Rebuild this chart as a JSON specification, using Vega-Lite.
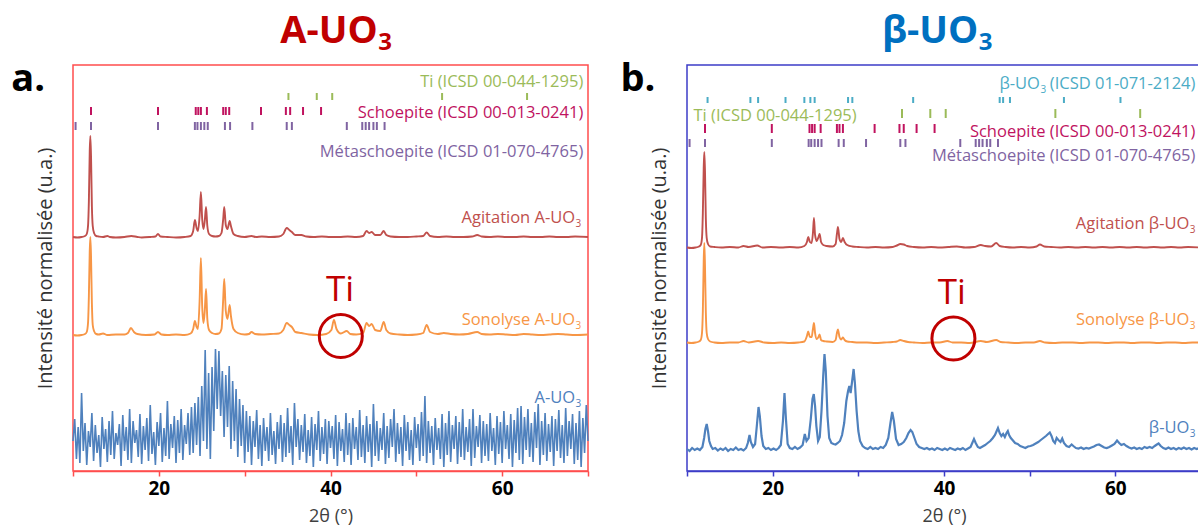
{
"$schema": "https://vega.github.io/schema/vega-lite/v6.json",
"padding": {"left": 10, "top": 12, "right": 0, "bottom": 0},
"bounds": "flush",
"spacing": 99,
"config": {"font": "Open Sans", "view": {"strokeWidth": 1.5}},
"datasets": {
"ti": [{"t":35.1},{"t":38.4},{"t":40.2},{"t":53.0},{"t":62.9}],
"sch": [{"t":12.1},{"t":19.9},{"t":24.3},{"t":24.6},{"t":24.9},{"t":25.6},{"t":27.5},{"t":27.8},{"t":28.2},{"t":31.9},{"t":34.8},{"t":35.3},{"t":36.8},{"t":38.9}],
"meta": [{"t":10.3},{"t":12.1},{"t":19.9},{"t":24.2},{"t":24.5},{"t":24.9},{"t":25.3},{"t":25.7},{"t":27.7},{"t":28.3},{"t":30.9},{"t":34.9},{"t":35.5},{"t":41.9},{"t":43.7},{"t":44.1},{"t":44.5},{"t":45.0},{"t":45.4},{"t":46.3}],
"buo": [{"t":12.4},{"t":17.4},{"t":18.3},{"t":21.5},{"t":23.7},{"t":24.4},{"t":24.9},{"t":28.8},{"t":29.3},{"t":36.4},{"t":46.5},{"t":46.9},{"t":47.7},{"t":54.0},{"t":60.6}],
"aAg": [{"t":10,"y":234},{"t":10.5,"y":233.5},{"t":11,"y":234},{"t":11.4,"y":235},{"t":11.6,"y":237},{"t":11.75,"y":245},{"t":11.85,"y":270},{"t":11.95,"y":320},{"t":12.02,"y":335},{"t":12.1,"y":315},{"t":12.2,"y":265},{"t":12.3,"y":245},{"t":12.45,"y":238},{"t":12.7,"y":235},{"t":13,"y":234.5},{"t":13.5,"y":234},{"t":14,"y":235},{"t":14.3,"y":234},{"t":15,"y":233.5},{"t":16,"y":234},{"t":16.8,"y":235},{"t":17.5,"y":234},{"t":18,"y":233.5},{"t":19,"y":234},{"t":19.6,"y":234.5},{"t":19.9,"y":237},{"t":20.2,"y":234.5},{"t":21,"y":234},{"t":22,"y":233.5},{"t":23,"y":234},{"t":23.7,"y":235},{"t":24,"y":240},{"t":24.2,"y":251},{"t":24.4,"y":243},{"t":24.55,"y":240},{"t":24.75,"y":255},{"t":24.9,"y":279},{"t":25.05,"y":252},{"t":25.2,"y":242},{"t":25.35,"y":250},{"t":25.5,"y":264},{"t":25.65,"y":245},{"t":25.85,"y":237},{"t":26.2,"y":235},{"t":26.6,"y":234.5},{"t":27,"y":235},{"t":27.3,"y":238},{"t":27.5,"y":252},{"t":27.62,"y":264},{"t":27.8,"y":246},{"t":28,"y":242},{"t":28.25,"y":250},{"t":28.4,"y":245},{"t":28.7,"y":237},{"t":29.2,"y":235},{"t":30,"y":234},{"t":30.8,"y":235},{"t":31.3,"y":234},{"t":32,"y":234.5},{"t":33,"y":234},{"t":34,"y":234.5},{"t":34.5,"y":237},{"t":34.9,"y":243},{"t":35.2,"y":241},{"t":35.5,"y":239},{"t":35.9,"y":236},{"t":36.6,"y":236},{"t":37.2,"y":234.5},{"t":38,"y":234},{"t":39,"y":234.5},{"t":40,"y":234},{"t":41,"y":234},{"t":42,"y":234.5},{"t":43,"y":234},{"t":43.8,"y":235},{"t":44.2,"y":240},{"t":44.5,"y":238},{"t":44.8,"y":239},{"t":45.2,"y":236},{"t":45.8,"y":236},{"t":46.2,"y":240},{"t":46.5,"y":236},{"t":47,"y":234.5},{"t":48,"y":234},{"t":49,"y":234},{"t":50,"y":234.5},{"t":50.8,"y":235},{"t":51.2,"y":238.5},{"t":51.6,"y":235},{"t":52.5,"y":234},{"t":53.5,"y":234.5},{"t":54.5,"y":234},{"t":55.5,"y":234},{"t":56.5,"y":234.5},{"t":57.1,"y":236},{"t":57.6,"y":234.5},{"t":58.5,"y":234},{"t":59.5,"y":234.5},{"t":60.5,"y":234},{"t":61.5,"y":234},{"t":62.5,"y":234.5},{"t":63.5,"y":234},{"t":64.5,"y":234},{"t":65.5,"y":234.5},{"t":66.5,"y":234},{"t":67.5,"y":234},{"t":68.5,"y":234.5},{"t":70,"y":234}],
"aSo": [{"t":10,"y":136},{"t":10.5,"y":135.5},{"t":11,"y":136},{"t":11.4,"y":137},{"t":11.6,"y":139},{"t":11.75,"y":148},{"t":11.85,"y":175},{"t":11.95,"y":220},{"t":12.02,"y":234},{"t":12.1,"y":215},{"t":12.2,"y":168},{"t":12.3,"y":146},{"t":12.45,"y":140},{"t":12.7,"y":137},{"t":13,"y":136.5},{"t":13.5,"y":137.5},{"t":14,"y":136},{"t":15,"y":136.5},{"t":16,"y":136.5},{"t":16.4,"y":138},{"t":16.75,"y":143},{"t":17.1,"y":139},{"t":17.5,"y":137},{"t":18.5,"y":136},{"t":19.5,"y":136.5},{"t":19.9,"y":139},{"t":20.3,"y":136.5},{"t":21,"y":136},{"t":22,"y":136.5},{"t":23,"y":136},{"t":23.7,"y":137.5},{"t":24,"y":142},{"t":24.2,"y":150},{"t":24.4,"y":144},{"t":24.55,"y":142},{"t":24.75,"y":170},{"t":24.9,"y":213},{"t":25.05,"y":165},{"t":25.2,"y":148},{"t":25.35,"y":160},{"t":25.5,"y":182},{"t":25.65,"y":152},{"t":25.85,"y":141},{"t":26.2,"y":138},{"t":26.6,"y":137},{"t":27,"y":137.5},{"t":27.3,"y":142},{"t":27.5,"y":172},{"t":27.62,"y":192},{"t":27.8,"y":160},{"t":28,"y":152},{"t":28.25,"y":166},{"t":28.4,"y":155},{"t":28.7,"y":142},{"t":29.2,"y":138},{"t":30,"y":136.5},{"t":30.5,"y":137},{"t":30.8,"y":139},{"t":31.2,"y":137},{"t":32,"y":136.5},{"t":33,"y":137},{"t":34,"y":137.5},{"t":34.5,"y":141},{"t":34.9,"y":148},{"t":35.2,"y":146},{"t":35.5,"y":144},{"t":35.9,"y":139},{"t":36.6,"y":138},{"t":37.5,"y":136.5},{"t":38.5,"y":136},{"t":39.5,"y":137},{"t":40.1,"y":141},{"t":40.4,"y":151},{"t":40.7,"y":142},{"t":41.2,"y":137.5},{"t":41.9,"y":140},{"t":42.3,"y":137},{"t":43,"y":136.5},{"t":43.8,"y":138},{"t":44.2,"y":148},{"t":44.5,"y":145},{"t":44.8,"y":147},{"t":45.2,"y":141},{"t":45.8,"y":140},{"t":46.2,"y":149},{"t":46.5,"y":141},{"t":47,"y":137.5},{"t":48,"y":136.5},{"t":49,"y":136},{"t":50,"y":136.5},{"t":50.8,"y":138},{"t":51.2,"y":146},{"t":51.6,"y":139},{"t":52.5,"y":137},{"t":53.2,"y":138},{"t":54,"y":137},{"t":55,"y":136.5},{"t":56,"y":137},{"t":57.1,"y":139},{"t":57.6,"y":137},{"t":58.5,"y":136.5},{"t":59.5,"y":137},{"t":60.5,"y":136.5},{"t":61.5,"y":136},{"t":62.5,"y":137},{"t":63.5,"y":136.5},{"t":64.5,"y":136},{"t":65.5,"y":136.5},{"t":66.5,"y":137},{"t":67.5,"y":136.5},{"t":68.5,"y":136},{"t":70,"y":136.5}],
"aBl": [{"t":10.0,"y":30},{"t":10.2,"y":52},{"t":10.4,"y":12},{"t":10.6,"y":44},{"t":10.8,"y":8},{"t":11.0,"y":78},{"t":11.2,"y":20},{"t":11.4,"y":48},{"t":11.6,"y":6},{"t":11.8,"y":40},
{"t":12.0,"y":24},{"t":12.2,"y":58},{"t":12.4,"y":10},{"t":12.6,"y":46},{"t":12.8,"y":18},{"t":13.0,"y":36},{"t":13.2,"y":4},{"t":13.4,"y":54},{"t":13.6,"y":22},{"t":13.8,"y":42},
{"t":14.0,"y":9},{"t":14.2,"y":50},{"t":14.4,"y":16},{"t":14.6,"y":60},{"t":14.8,"y":12},{"t":15.0,"y":38},{"t":15.2,"y":26},{"t":15.4,"y":47},{"t":15.6,"y":5},{"t":15.8,"y":56},
{"t":16.0,"y":20},{"t":16.2,"y":44},{"t":16.4,"y":11},{"t":16.6,"y":62},{"t":16.8,"y":8},{"t":17.0,"y":50},{"t":17.2,"y":28},{"t":17.4,"y":41},{"t":17.6,"y":14},{"t":17.8,"y":57},
{"t":18.0,"y":7},{"t":18.2,"y":45},{"t":18.4,"y":21},{"t":18.6,"y":53},{"t":18.8,"y":10},{"t":19.0,"y":66},{"t":19.2,"y":17},{"t":19.4,"y":39},{"t":19.6,"y":6},{"t":19.8,"y":49},
{"t":20.0,"y":25},{"t":20.2,"y":58},{"t":20.4,"y":9},{"t":20.6,"y":43},{"t":20.8,"y":15},{"t":21.0,"y":70},{"t":21.2,"y":12},{"t":21.4,"y":47},{"t":21.6,"y":23},{"t":21.8,"y":55},
{"t":22.0,"y":8},{"t":22.2,"y":51},{"t":22.4,"y":18},{"t":22.6,"y":62},{"t":22.8,"y":11},{"t":23.0,"y":46},{"t":23.2,"y":27},{"t":23.4,"y":58},{"t":23.6,"y":16},{"t":23.8,"y":64},
{"t":24.0,"y":18},{"t":24.2,"y":68},{"t":24.4,"y":26},{"t":24.6,"y":74},{"t":24.8,"y":15},{"t":25.0,"y":85},{"t":25.2,"y":30},{"t":25.4,"y":121},{"t":25.6,"y":22},{"t":25.8,"y":98},
{"t":26.0,"y":12},{"t":26.2,"y":104},{"t":26.4,"y":40},{"t":26.6,"y":122},{"t":26.8,"y":62},{"t":27.0,"y":120},{"t":27.2,"y":55},{"t":27.4,"y":100},{"t":27.6,"y":34},{"t":27.8,"y":96},
{"t":28.0,"y":44},{"t":28.2,"y":105},{"t":28.4,"y":22},{"t":28.6,"y":90},{"t":28.8,"y":30},{"t":29.0,"y":82},{"t":29.2,"y":14},{"t":29.4,"y":72},{"t":29.6,"y":25},{"t":29.8,"y":66},
{"t":30.0,"y":8},{"t":30.2,"y":60},{"t":30.4,"y":19},{"t":30.6,"y":55},{"t":30.8,"y":6},{"t":31.0,"y":50},{"t":31.2,"y":24},{"t":31.4,"y":61},{"t":31.6,"y":12},{"t":31.8,"y":46},
{"t":32.0,"y":5},{"t":32.2,"y":53},{"t":32.4,"y":20},{"t":32.6,"y":44},{"t":32.8,"y":10},{"t":33.0,"y":58},{"t":33.2,"y":16},{"t":33.4,"y":40},{"t":33.6,"y":7},{"t":33.8,"y":49},
{"t":34.0,"y":22},{"t":34.2,"y":56},{"t":34.4,"y":9},{"t":34.6,"y":48},{"t":34.8,"y":14},{"t":35.0,"y":63},{"t":35.2,"y":18},{"t":35.4,"y":45},{"t":35.6,"y":6},{"t":35.8,"y":68},
{"t":36.0,"y":24},{"t":36.2,"y":52},{"t":36.4,"y":11},{"t":36.6,"y":46},{"t":36.8,"y":19},{"t":37.0,"y":57},{"t":37.2,"y":8},{"t":37.4,"y":41},{"t":37.6,"y":15},{"t":37.8,"y":54},
{"t":38.0,"y":4},{"t":38.2,"y":47},{"t":38.4,"y":21},{"t":38.6,"y":60},{"t":38.8,"y":10},{"t":39.0,"y":44},{"t":39.2,"y":17},{"t":39.4,"y":52},{"t":39.6,"y":7},{"t":39.8,"y":50},
{"t":40.0,"y":23},{"t":40.2,"y":45},{"t":40.4,"y":12},{"t":40.6,"y":56},{"t":40.8,"y":5},{"t":41.0,"y":49},{"t":41.2,"y":20},{"t":41.4,"y":42},{"t":41.6,"y":9},{"t":41.8,"y":58},
{"t":42.0,"y":16},{"t":42.2,"y":48},{"t":42.4,"y":6},{"t":42.6,"y":53},{"t":42.8,"y":22},{"t":43.0,"y":44},{"t":43.2,"y":11},{"t":43.4,"y":61},{"t":43.6,"y":14},{"t":43.8,"y":46},
{"t":44.0,"y":8},{"t":44.2,"y":55},{"t":44.4,"y":19},{"t":44.6,"y":47},{"t":44.8,"y":4},{"t":45.0,"y":67},{"t":45.2,"y":15},{"t":45.4,"y":50},{"t":45.6,"y":10},{"t":45.8,"y":43},
{"t":46.0,"y":21},{"t":46.2,"y":58},{"t":46.4,"y":7},{"t":46.6,"y":45},{"t":46.8,"y":13},{"t":47.0,"y":52},{"t":47.2,"y":24},{"t":47.4,"y":62},{"t":47.6,"y":9},{"t":47.8,"y":48},
{"t":48.0,"y":17},{"t":48.2,"y":44},{"t":48.4,"y":5},{"t":48.6,"y":56},{"t":48.8,"y":20},{"t":49.0,"y":49},{"t":49.2,"y":11},{"t":49.4,"y":41},{"t":49.6,"y":6},{"t":49.8,"y":54},
{"t":50.0,"y":23},{"t":50.2,"y":47},{"t":50.4,"y":10},{"t":50.6,"y":59},{"t":50.8,"y":15},{"t":51.0,"y":75},{"t":51.2,"y":8},{"t":51.4,"y":50},{"t":51.6,"y":18},{"t":51.8,"y":45},
{"t":52.0,"y":6},{"t":52.2,"y":53},{"t":52.4,"y":21},{"t":52.6,"y":43},{"t":52.8,"y":12},{"t":53.0,"y":57},{"t":53.2,"y":4},{"t":53.4,"y":48},{"t":53.6,"y":16},{"t":53.8,"y":60},
{"t":54.0,"y":9},{"t":54.2,"y":46},{"t":54.4,"y":22},{"t":54.6,"y":55},{"t":54.8,"y":7},{"t":55.0,"y":49},{"t":55.2,"y":14},{"t":55.4,"y":62},{"t":55.6,"y":11},{"t":55.8,"y":44},
{"t":56.0,"y":19},{"t":56.2,"y":52},{"t":56.4,"y":5},{"t":56.6,"y":62},{"t":56.8,"y":13},{"t":57.0,"y":45},{"t":57.2,"y":24},{"t":57.4,"y":56},{"t":57.6,"y":8},{"t":57.8,"y":50},
{"t":58.0,"y":15},{"t":58.2,"y":47},{"t":58.4,"y":10},{"t":58.6,"y":58},{"t":58.8,"y":20},{"t":59.0,"y":43},{"t":59.2,"y":6},{"t":59.4,"y":55},{"t":59.6,"y":17},{"t":59.8,"y":49},
{"t":60.0,"y":8},{"t":60.2,"y":60},{"t":60.4,"y":22},{"t":60.6,"y":46},{"t":60.8,"y":12},{"t":61.0,"y":57},{"t":61.2,"y":4},{"t":61.4,"y":51},{"t":61.6,"y":18},{"t":61.8,"y":63},
{"t":62.0,"y":11},{"t":62.2,"y":65},{"t":62.4,"y":7},{"t":62.6,"y":54},{"t":62.8,"y":21},{"t":63.0,"y":62},{"t":63.2,"y":14},{"t":63.4,"y":48},{"t":63.6,"y":9},{"t":63.8,"y":59},
{"t":64.0,"y":23},{"t":64.2,"y":67},{"t":64.4,"y":6},{"t":64.6,"y":50},{"t":64.8,"y":16},{"t":65.0,"y":58},{"t":65.2,"y":10},{"t":65.4,"y":47},{"t":65.6,"y":19},{"t":65.8,"y":55},
{"t":66.0,"y":5},{"t":66.2,"y":52},{"t":66.4,"y":20},{"t":66.6,"y":61},{"t":66.8,"y":13},{"t":67.0,"y":46},{"t":67.2,"y":8},{"t":67.4,"y":63},{"t":67.6,"y":15},{"t":67.8,"y":50},
{"t":68.0,"y":22},{"t":68.2,"y":57},{"t":68.4,"y":7},{"t":68.6,"y":48},{"t":68.8,"y":11},{"t":69.0,"y":60},{"t":69.2,"y":4},{"t":69.4,"y":53},{"t":69.6,"y":18},{"t":69.8,"y":66},{"t":70.0,"y":30}],
"bAg": [{"t":10,"y":223.5},{"t":10.5,"y":223},{"t":11,"y":223.5},{"t":11.4,"y":224.5},{"t":11.6,"y":226},{"t":11.75,"y":233},{"t":11.85,"y":258},{"t":11.95,"y":303},{"t":12.02,"y":319},{"t":12.1,"y":300},{"t":12.2,"y":252},{"t":12.3,"y":233},{"t":12.45,"y":227},{"t":12.7,"y":224.5},{"t":13.2,"y":224},{"t":14,"y":223.5},{"t":15,"y":224},{"t":16,"y":223.5},{"t":16.6,"y":225},{"t":17.2,"y":224},{"t":18.2,"y":225.5},{"t":18.8,"y":223.5},{"t":19.8,"y":224},{"t":21,"y":223.5},{"t":22,"y":224},{"t":23,"y":223.5},{"t":23.7,"y":225},{"t":24,"y":229},{"t":24.15,"y":234},{"t":24.35,"y":229},{"t":24.55,"y":228},{"t":24.7,"y":238},{"t":24.82,"y":253},{"t":24.95,"y":236},{"t":25.15,"y":230},{"t":25.35,"y":234},{"t":25.48,"y":237},{"t":25.65,"y":229},{"t":25.9,"y":226},{"t":26.3,"y":225},{"t":27,"y":224.5},{"t":27.35,"y":227},{"t":27.5,"y":237},{"t":27.62,"y":244},{"t":27.8,"y":232},{"t":28,"y":229},{"t":28.2,"y":233},{"t":28.4,"y":229},{"t":28.7,"y":226},{"t":29.3,"y":224.5},{"t":30,"y":224},{"t":31,"y":223.5},{"t":32,"y":224},{"t":33,"y":223.5},{"t":34,"y":224},{"t":34.5,"y":225.5},{"t":34.9,"y":227},{"t":35.3,"y":226.5},{"t":35.7,"y":225},{"t":36.5,"y":224},{"t":37.5,"y":223.5},{"t":38.5,"y":224},{"t":39.5,"y":223.5},{"t":40.5,"y":224},{"t":41.5,"y":224.5},{"t":42.5,"y":223.5},{"t":43.5,"y":224},{"t":44.3,"y":226},{"t":44.8,"y":225},{"t":45.5,"y":224.5},{"t":46.1,"y":228},{"t":46.5,"y":225},{"t":47.2,"y":224},{"t":48,"y":223.5},{"t":49,"y":224},{"t":50,"y":223.5},{"t":50.8,"y":224.5},{"t":51.2,"y":226.5},{"t":51.7,"y":224.5},{"t":52.5,"y":224},{"t":53.5,"y":223.5},{"t":54.5,"y":224},{"t":55.5,"y":223.5},{"t":56.5,"y":224},{"t":57.5,"y":223.5},{"t":58.5,"y":224},{"t":59.5,"y":223.5},{"t":60.5,"y":224},{"t":61.5,"y":223.5},{"t":62.5,"y":224},{"t":63.5,"y":223.5},{"t":64.5,"y":224},{"t":65.5,"y":223.5},{"t":66.5,"y":224},{"t":67.5,"y":223.5},{"t":68.5,"y":224},{"t":70,"y":223.5}],
"bSo": [{"t":10,"y":128.5},{"t":10.5,"y":128},{"t":11,"y":128.5},{"t":11.4,"y":129.5},{"t":11.6,"y":131},{"t":11.75,"y":138},{"t":11.85,"y":160},{"t":11.95,"y":210},{"t":12.02,"y":228},{"t":12.1,"y":205},{"t":12.2,"y":158},{"t":12.3,"y":138},{"t":12.45,"y":132},{"t":12.7,"y":129.5},{"t":13.2,"y":128.5},{"t":14,"y":128},{"t":15,"y":128.5},{"t":16,"y":128.5},{"t":16.6,"y":130},{"t":17.2,"y":128.5},{"t":18.3,"y":130},{"t":19,"y":128.5},{"t":20,"y":128},{"t":21,"y":128.5},{"t":22,"y":128},{"t":23,"y":128.5},{"t":23.7,"y":129.5},{"t":24,"y":135},{"t":24.15,"y":139.5},{"t":24.35,"y":134},{"t":24.55,"y":134},{"t":24.7,"y":142},{"t":24.82,"y":148},{"t":24.95,"y":138},{"t":25.15,"y":132},{"t":25.35,"y":134},{"t":25.48,"y":136.5},{"t":25.65,"y":131},{"t":25.9,"y":130},{"t":26.3,"y":129.5},{"t":27,"y":129},{"t":27.35,"y":131},{"t":27.5,"y":138},{"t":27.62,"y":141.5},{"t":27.8,"y":134},{"t":28,"y":131.5},{"t":28.2,"y":133.5},{"t":28.4,"y":131},{"t":28.7,"y":129.5},{"t":29.3,"y":129},{"t":30,"y":128.5},{"t":31,"y":128.5},{"t":32,"y":128},{"t":33,"y":128.5},{"t":34,"y":129},{"t":34.5,"y":129.5},{"t":34.9,"y":131},{"t":35.3,"y":130},{"t":35.8,"y":129},{"t":36.5,"y":128.5},{"t":37.5,"y":128},{"t":38.5,"y":128.5},{"t":39.5,"y":128.5},{"t":40.4,"y":130},{"t":41,"y":128.5},{"t":42,"y":128.5},{"t":43,"y":128},{"t":44.3,"y":130},{"t":45,"y":129},{"t":46.1,"y":131},{"t":46.6,"y":129},{"t":47.5,"y":128.5},{"t":48.5,"y":128},{"t":49.5,"y":128.5},{"t":50.5,"y":128.5},{"t":51.2,"y":130},{"t":51.8,"y":128.5},{"t":52.8,"y":128},{"t":53.8,"y":128.5},{"t":55,"y":128.5},{"t":56,"y":128},{"t":57,"y":128.5},{"t":58,"y":128.5},{"t":59,"y":128},{"t":60,"y":128.5},{"t":61,"y":128.5},{"t":62,"y":128},{"t":63,"y":128.5},{"t":64,"y":128.5},{"t":65,"y":128},{"t":66,"y":128.5},{"t":67,"y":128.5},{"t":68,"y":128},{"t":69,"y":128.5},{"t":70,"y":128.5}],
"bBl": [{"t":10.0,"y":22},{"t":10.3,"y":20},{"t":10.6,"y":23},{"t":10.9,"y":21},{"t":11.2,"y":22.5},{"t":11.5,"y":21},{"t":11.8,"y":24},{"t":12.0,"y":33},{"t":12.15,"y":42},{"t":12.3,"y":47},{"t":12.45,"y":40},{"t":12.6,"y":30},{"t":12.8,"y":25},{"t":13.0,"y":22},{"t":13.3,"y":23},{"t":13.6,"y":20.5},{"t":13.9,"y":22.5},{"t":14.2,"y":21},{"t":14.5,"y":23},{"t":14.8,"y":20},{"t":15.1,"y":22},{"t":15.4,"y":21},{"t":15.7,"y":23.5},{"t":16.0,"y":21},{"t":16.3,"y":22},{"t":16.6,"y":20.5},{"t":16.9,"y":23},{"t":17.1,"y":28},{"t":17.3,"y":36},{"t":17.45,"y":29},{"t":17.7,"y":24},{"t":17.95,"y":27},{"t":18.15,"y":45},{"t":18.35,"y":64},{"t":18.5,"y":55},{"t":18.7,"y":35},{"t":18.9,"y":25},{"t":19.2,"y":22},{"t":19.5,"y":23},{"t":19.8,"y":21},{"t":20.1,"y":22.5},{"t":20.4,"y":21},{"t":20.7,"y":23},{"t":20.95,"y":26},{"t":21.2,"y":50},{"t":21.38,"y":78},{"t":21.55,"y":52},{"t":21.75,"y":27},{"t":22.0,"y":23},{"t":22.3,"y":22},{"t":22.6,"y":24},{"t":22.9,"y":22},{"t":23.2,"y":23.5},{"t":23.5,"y":26},{"t":23.75,"y":37},{"t":23.95,"y":30},{"t":24.2,"y":33},{"t":24.45,"y":52},{"t":24.65,"y":72},{"t":24.8,"y":77},{"t":24.95,"y":65},{"t":25.1,"y":45},{"t":25.3,"y":30},{"t":25.5,"y":34},{"t":25.7,"y":60},{"t":25.9,"y":95},{"t":26.05,"y":117},{"t":26.2,"y":100},{"t":26.4,"y":55},{"t":26.6,"y":33},{"t":26.85,"y":28},{"t":27.1,"y":27},{"t":27.35,"y":26.5},{"t":27.6,"y":28},{"t":27.85,"y":30},{"t":28.1,"y":36},{"t":28.35,"y":48},{"t":28.6,"y":70},{"t":28.8,"y":80},{"t":28.95,"y":85},{"t":29.1,"y":78},{"t":29.25,"y":88},{"t":29.45,"y":102},{"t":29.6,"y":88},{"t":29.8,"y":60},{"t":30.0,"y":40},{"t":30.2,"y":30},{"t":30.5,"y":25},{"t":30.8,"y":23},{"t":31.1,"y":22},{"t":31.4,"y":24},{"t":31.7,"y":22},{"t":32.0,"y":23},{"t":32.3,"y":22},{"t":32.6,"y":24},{"t":32.9,"y":23},{"t":33.2,"y":26},{"t":33.5,"y":33},{"t":33.75,"y":48},{"t":33.95,"y":59},{"t":34.15,"y":50},{"t":34.4,"y":32},{"t":34.7,"y":26},{"t":35.0,"y":27},{"t":35.3,"y":29},{"t":35.6,"y":33},{"t":35.85,"y":38},{"t":36.1,"y":41},{"t":36.3,"y":39},{"t":36.55,"y":33},{"t":36.8,"y":27},{"t":37.1,"y":24},{"t":37.4,"y":23},{"t":37.7,"y":22},{"t":38.0,"y":23},{"t":38.3,"y":21.5},{"t":38.6,"y":22.5},{"t":38.9,"y":21},{"t":39.2,"y":23},{"t":39.5,"y":22},{"t":39.8,"y":21},{"t":40.1,"y":22.5},{"t":40.4,"y":21},{"t":40.7,"y":23},{"t":41.0,"y":22},{"t":41.3,"y":21},{"t":41.6,"y":22.5},{"t":41.9,"y":21.5},{"t":42.2,"y":23},{"t":42.5,"y":21},{"t":42.8,"y":22.5},{"t":43.1,"y":24},{"t":43.35,"y":29},{"t":43.5,"y":32},{"t":43.7,"y":28},{"t":43.95,"y":24},{"t":44.2,"y":23},{"t":44.5,"y":24.5},{"t":44.8,"y":26},{"t":45.1,"y":28},{"t":45.4,"y":30},{"t":45.7,"y":33},{"t":45.95,"y":36},{"t":46.15,"y":40},{"t":46.3,"y":43},{"t":46.5,"y":38},{"t":46.7,"y":35},{"t":46.9,"y":37},{"t":47.1,"y":34},{"t":47.3,"y":38},{"t":47.45,"y":40},{"t":47.6,"y":36},{"t":47.8,"y":33},{"t":48.0,"y":31},{"t":48.3,"y":28},{"t":48.6,"y":27},{"t":48.9,"y":25},{"t":49.2,"y":24},{"t":49.5,"y":23},{"t":49.8,"y":24.5},{"t":50.1,"y":25},{"t":50.4,"y":26},{"t":50.7,"y":27.5},{"t":51.0,"y":29},{"t":51.3,"y":31},{"t":51.6,"y":33},{"t":51.9,"y":35},{"t":52.15,"y":37},{"t":52.35,"y":38.5},{"t":52.55,"y":35},{"t":52.75,"y":30},{"t":52.95,"y":28},{"t":53.15,"y":33},{"t":53.35,"y":31},{"t":53.6,"y":29},{"t":53.8,"y":32.5},{"t":54.0,"y":28},{"t":54.3,"y":25},{"t":54.6,"y":24},{"t":54.9,"y":26.5},{"t":55.1,"y":25},{"t":55.4,"y":23},{"t":55.7,"y":22.5},{"t":56.0,"y":23.5},{"t":56.3,"y":22},{"t":56.6,"y":23},{"t":56.9,"y":22.5},{"t":57.2,"y":23.5},{"t":57.5,"y":24.5},{"t":57.8,"y":26},{"t":58.1,"y":26.5},{"t":58.4,"y":25},{"t":58.7,"y":23.5},{"t":59.0,"y":23},{"t":59.3,"y":24},{"t":59.6,"y":25.5},{"t":59.9,"y":27},{"t":60.2,"y":30.5},{"t":60.45,"y":28},{"t":60.7,"y":26},{"t":61.0,"y":27},{"t":61.3,"y":25},{"t":61.6,"y":23.5},{"t":61.9,"y":22.5},{"t":62.2,"y":23.5},{"t":62.5,"y":22},{"t":62.8,"y":23},{"t":63.1,"y":22},{"t":63.4,"y":24},{"t":63.7,"y":23},{"t":64.0,"y":24},{"t":64.3,"y":23},{"t":64.6,"y":25},{"t":64.85,"y":26.5},{"t":65.05,"y":27.5},{"t":65.3,"y":25},{"t":65.6,"y":23},{"t":65.9,"y":22},{"t":66.2,"y":23.5},{"t":66.5,"y":22},{"t":66.8,"y":23},{"t":67.1,"y":21.5},{"t":67.4,"y":23},{"t":67.7,"y":22},{"t":68.0,"y":23.5},{"t":68.3,"y":22},{"t":68.6,"y":23},{"t":68.9,"y":21.5},{"t":69.2,"y":23},{"t":69.5,"y":22},{"t":69.8,"y":23},{"t":70.0,"y":22}]
},
"hconcat": [
{
"width": 515, "height": 406,
"view": {"stroke": "#ff4d4d", "strokeWidth": 1.5},
"layer": [
 {"data": {"name": "aAg"}, "mark": {"type": "line", "color": "#c0504d", "strokeWidth": 1.9, "interpolate": "monotone"},
  "encoding": {
   "x": {"field": "t", "type": "quantitative", "scale": {"domain": [10, 70], "nice": false, "zero": false},
    "axis": {"values": [10, 20, 30, 40, 50, 60, 70], "labelExpr": "datum.value % 20 === 0 ? datum.label : ''", "labelOverlap": false, "labelFlush": false, "title": "2θ (°)", "grid": false, "domainColor": "#ff4d4d", "domainWidth": 1.5, "tickColor": "#ff4d4d", "tickWidth": 1.5, "tickSize": 5, "labelFontWeight": "bold", "labelFontSize": 19, "labelColor": "#000000", "labelPadding": 3, "titleFontSize": 18, "titleFontWeight": "normal", "titleColor": "#404040", "titlePadding": 9}},
   "y": {"field": "y", "type": "quantitative", "scale": {"domain": [0, 406], "nice": false, "zero": false},
    "axis": {"title": "Intensité normalisée (u.a.)", "labels": false, "ticks": false, "domain": false, "grid": false, "titleFontSize": 20, "titleFontWeight": "normal", "titleColor": "#333333", "titlePadding": 18}}}},
 {"data": {"name": "aSo"}, "mark": {"type": "line", "color": "#f79646", "strokeWidth": 1.9, "interpolate": "monotone"}, "encoding": {"x": {"field": "t", "type": "quantitative"}, "y": {"field": "y", "type": "quantitative"}}},
 {"data": {"name": "aBl"}, "mark": {"type": "line", "color": "#4f81bd", "strokeWidth": 1.6}, "encoding": {"x": {"field": "t", "type": "quantitative"}, "y": {"field": "y", "type": "quantitative"}}},
 {"data": {"name": "ti"}, "mark": {"type": "rule", "color": "#9bbb59", "strokeWidth": 2}, "encoding": {"x": {"field": "t", "type": "quantitative"}, "y": {"datum": 371, "type": "quantitative"}, "y2": {"datum": 378}}},
 {"data": {"name": "sch"}, "mark": {"type": "rule", "color": "#c0135f", "strokeWidth": 2}, "encoding": {"x": {"field": "t", "type": "quantitative"}, "y": {"datum": 356, "type": "quantitative"}, "y2": {"datum": 364}}},
 {"data": {"name": "meta"}, "mark": {"type": "rule", "color": "#8064a2", "strokeWidth": 2}, "encoding": {"x": {"field": "t", "type": "quantitative"}, "y": {"datum": 341, "type": "quantitative"}, "y2": {"datum": 349}}},
 {"data": {"values": [{"s": "Ti (ICSD 00-044-1295)"}]}, "mark": {"type": "text", "align": "right", "baseline": "middle", "fontSize": 16.5, "color": "#9bbb59"}, "encoding": {"x": {"datum": 69.45, "type": "quantitative"}, "y": {"datum": 389, "type": "quantitative"}, "text": {"field": "s"}}},
 {"data": {"values": [{"s": "Schoepite (ICSD 00-013-0241)"}]}, "mark": {"type": "text", "align": "right", "baseline": "middle", "fontSize": 16.5, "color": "#c0135f"}, "encoding": {"x": {"datum": 69.45, "type": "quantitative"}, "y": {"datum": 358, "type": "quantitative"}, "text": {"field": "s"}}},
 {"data": {"values": [{"s": "Métaschoepite (ICSD 01-070-4765)"}]}, "mark": {"type": "text", "align": "right", "baseline": "middle", "fontSize": 16.5, "color": "#8064a2"}, "encoding": {"x": {"datum": 69.45, "type": "quantitative"}, "y": {"datum": 319, "type": "quantitative"}, "text": {"field": "s"}}},
 {"data": {"values": [{"s": "Agitation A-UO"}]}, "mark": {"type": "text", "align": "right", "baseline": "middle", "fontSize": 16.5, "color": "#c0504d"}, "encoding": {"x": {"datum": 68.5, "type": "quantitative"}, "y": {"datum": 253, "type": "quantitative"}, "text": {"field": "s"}}},
 {"data": {"values": [{"s": "3"}]}, "mark": {"type": "text", "align": "left", "baseline": "middle", "fontSize": 10, "color": "#c0504d"}, "encoding": {"x": {"datum": 68.55, "type": "quantitative"}, "y": {"datum": 247, "type": "quantitative"}, "text": {"field": "s"}}},
 {"data": {"values": [{"s": "Sonolyse A-UO"}]}, "mark": {"type": "text", "align": "right", "baseline": "middle", "fontSize": 16.5, "color": "#f79646"}, "encoding": {"x": {"datum": 68.5, "type": "quantitative"}, "y": {"datum": 151, "type": "quantitative"}, "text": {"field": "s"}}},
 {"data": {"values": [{"s": "3"}]}, "mark": {"type": "text", "align": "left", "baseline": "middle", "fontSize": 10, "color": "#f79646"}, "encoding": {"x": {"datum": 68.55, "type": "quantitative"}, "y": {"datum": 145, "type": "quantitative"}, "text": {"field": "s"}}},
 {"data": {"values": [{"s": "A-UO"}]}, "mark": {"type": "text", "align": "right", "baseline": "middle", "fontSize": 16.5, "color": "#4f81bd"}, "encoding": {"x": {"datum": 68.5, "type": "quantitative"}, "y": {"datum": 73, "type": "quantitative"}, "text": {"field": "s"}}},
 {"data": {"values": [{"s": "3"}]}, "mark": {"type": "text", "align": "left", "baseline": "middle", "fontSize": 10, "color": "#4f81bd"}, "encoding": {"x": {"datum": 68.55, "type": "quantitative"}, "y": {"datum": 67, "type": "quantitative"}, "text": {"field": "s"}}},
 {"data": {"values": [{"s": "Ti"}]}, "mark": {"type": "text", "align": "center", "baseline": "middle", "fontSize": 35, "color": "#c00000"}, "encoding": {"x": {"datum": 41.1, "type": "quantitative"}, "y": {"datum": 181, "type": "quantitative"}, "text": {"field": "s"}}},
 {"data": {"values": [{"s": "o"}]}, "mark": {"type": "point", "shape": "circle", "size": 1850, "filled": false, "stroke": "#c00000", "strokeWidth": 3, "opacity": 1}, "encoding": {"x": {"datum": 41.2, "type": "quantitative"}, "y": {"datum": 135, "type": "quantitative"}}},
 {"data": {"values": [{"s": "A-UO"}]}, "mark": {"type": "text", "align": "right", "baseline": "middle", "fontSize": 38, "fontWeight": "bold", "color": "#c00000"}, "encoding": {"x": {"datum": 45.5, "type": "quantitative"}, "y": {"datum": 439, "type": "quantitative"}, "text": {"field": "s"}}},
 {"data": {"values": [{"s": "3"}]}, "mark": {"type": "text", "align": "left", "baseline": "middle", "fontSize": 24, "fontWeight": "bold", "color": "#c00000"}, "encoding": {"x": {"datum": 45.55, "type": "quantitative"}, "y": {"datum": 428, "type": "quantitative"}, "text": {"field": "s"}}},
 {"data": {"values": [{"s": "a."}]}, "mark": {"type": "text", "align": "left", "baseline": "middle", "fontSize": 38, "fontWeight": "bold", "color": "#000000"}, "encoding": {"x": {"datum": 2.8, "type": "quantitative"}, "y": {"datum": 391, "type": "quantitative"}, "text": {"field": "s"}}}
]
},
{
"width": 514, "height": 406,
"view": {"stroke": "#3c3cc8", "strokeWidth": 1.5},
"layer": [
 {"data": {"name": "bAg"}, "mark": {"type": "line", "color": "#c0504d", "strokeWidth": 1.9, "interpolate": "monotone"},
  "encoding": {
   "x": {"field": "t", "type": "quantitative", "scale": {"domain": [10, 70], "nice": false, "zero": false},
    "axis": {"values": [10, 20, 30, 40, 50, 60, 70], "labelExpr": "datum.value % 20 === 0 ? datum.label : ''", "labelOverlap": false, "labelFlush": false, "title": "2θ (°)", "grid": false, "domainColor": "#3c3cc8", "domainWidth": 1.5, "tickColor": "#3c3cc8", "tickWidth": 1.5, "tickSize": 5, "labelFontWeight": "bold", "labelFontSize": 19, "labelColor": "#000000", "labelPadding": 3, "titleFontSize": 18, "titleFontWeight": "normal", "titleColor": "#404040", "titlePadding": 9}},
   "y": {"field": "y", "type": "quantitative", "scale": {"domain": [0, 406], "nice": false, "zero": false},
    "axis": {"title": "Intensité normalisée (u.a.)", "labels": false, "ticks": false, "domain": false, "grid": false, "titleFontSize": 20, "titleFontWeight": "normal", "titleColor": "#333333", "titlePadding": 18}}}},
 {"data": {"name": "bSo"}, "mark": {"type": "line", "color": "#f79646", "strokeWidth": 1.9, "interpolate": "monotone"}, "encoding": {"x": {"field": "t", "type": "quantitative"}, "y": {"field": "y", "type": "quantitative"}}},
 {"data": {"name": "bBl"}, "mark": {"type": "line", "color": "#4f81bd", "strokeWidth": 2.2}, "encoding": {"x": {"field": "t", "type": "quantitative"}, "y": {"field": "y", "type": "quantitative"}}},
 {"data": {"name": "buo"}, "mark": {"type": "rule", "color": "#4bacc6", "strokeWidth": 2}, "encoding": {"x": {"field": "t", "type": "quantitative"}, "y": {"datum": 368, "type": "quantitative"}, "y2": {"datum": 374}}},
 {"data": {"name": "ti"}, "mark": {"type": "rule", "color": "#9bbb59", "strokeWidth": 2}, "encoding": {"x": {"field": "t", "type": "quantitative"}, "y": {"datum": 353, "type": "quantitative"}, "y2": {"datum": 362}}},
 {"data": {"name": "sch"}, "mark": {"type": "rule", "color": "#c0135f", "strokeWidth": 2}, "encoding": {"x": {"field": "t", "type": "quantitative"}, "y": {"datum": 338, "type": "quantitative"}, "y2": {"datum": 347}}},
 {"data": {"name": "meta"}, "mark": {"type": "rule", "color": "#8064a2", "strokeWidth": 2}, "encoding": {"x": {"field": "t", "type": "quantitative"}, "y": {"datum": 324, "type": "quantitative"}, "y2": {"datum": 332}}},
 {"data": {"values": [{"s": "(ICSD 01-071-2124)"}]}, "mark": {"type": "text", "align": "right", "baseline": "middle", "fontSize": 16.5, "color": "#4bacc6"}, "encoding": {"x": {"datum": 69.35, "type": "quantitative"}, "y": {"datum": 387, "type": "quantitative"}, "text": {"field": "s"}}},
 {"data": {"values": [{"s": "β-UO"}]}, "mark": {"type": "text", "align": "right", "baseline": "middle", "fontSize": 16.5, "color": "#4bacc6"}, "encoding": {"x": {"datum": 51.2, "type": "quantitative"}, "y": {"datum": 387, "type": "quantitative"}, "text": {"field": "s"}}},
 {"data": {"values": [{"s": "3"}]}, "mark": {"type": "text", "align": "left", "baseline": "middle", "fontSize": 10, "color": "#4bacc6"}, "encoding": {"x": {"datum": 51.25, "type": "quantitative"}, "y": {"datum": 381, "type": "quantitative"}, "text": {"field": "s"}}},
 {"data": {"values": [{"s": "Ti (ICSD 00-044-1295)"}]}, "mark": {"type": "text", "align": "left", "baseline": "middle", "fontSize": 16.5, "color": "#9bbb59"}, "encoding": {"x": {"datum": 10.76, "type": "quantitative"}, "y": {"datum": 355, "type": "quantitative"}, "text": {"field": "s"}}},
 {"data": {"values": [{"s": "Schoepite (ICSD 00-013-0241)"}]}, "mark": {"type": "text", "align": "right", "baseline": "middle", "fontSize": 16.5, "color": "#c0135f"}, "encoding": {"x": {"datum": 69.35, "type": "quantitative"}, "y": {"datum": 339, "type": "quantitative"}, "text": {"field": "s"}}},
 {"data": {"values": [{"s": "Métaschoepite (ICSD 01-070-4765)"}]}, "mark": {"type": "text", "align": "right", "baseline": "middle", "fontSize": 16.5, "color": "#8064a2"}, "encoding": {"x": {"datum": 69.35, "type": "quantitative"}, "y": {"datum": 315, "type": "quantitative"}, "text": {"field": "s"}}},
 {"data": {"values": [{"s": "Agitation β-UO"}]}, "mark": {"type": "text", "align": "right", "baseline": "middle", "fontSize": 16.5, "color": "#c0504d"}, "encoding": {"x": {"datum": 68.64, "type": "quantitative"}, "y": {"datum": 247, "type": "quantitative"}, "text": {"field": "s"}}},
 {"data": {"values": [{"s": "3"}]}, "mark": {"type": "text", "align": "left", "baseline": "middle", "fontSize": 10, "color": "#c0504d"}, "encoding": {"x": {"datum": 68.7, "type": "quantitative"}, "y": {"datum": 241, "type": "quantitative"}, "text": {"field": "s"}}},
 {"data": {"values": [{"s": "Sonolyse β-UO"}]}, "mark": {"type": "text", "align": "right", "baseline": "middle", "fontSize": 16.5, "color": "#f79646"}, "encoding": {"x": {"datum": 68.64, "type": "quantitative"}, "y": {"datum": 151, "type": "quantitative"}, "text": {"field": "s"}}},
 {"data": {"values": [{"s": "3"}]}, "mark": {"type": "text", "align": "left", "baseline": "middle", "fontSize": 10, "color": "#f79646"}, "encoding": {"x": {"datum": 68.7, "type": "quantitative"}, "y": {"datum": 145, "type": "quantitative"}, "text": {"field": "s"}}},
 {"data": {"values": [{"s": "β-UO"}]}, "mark": {"type": "text", "align": "right", "baseline": "middle", "fontSize": 16.5, "color": "#4f81bd"}, "encoding": {"x": {"datum": 68.64, "type": "quantitative"}, "y": {"datum": 43, "type": "quantitative"}, "text": {"field": "s"}}},
 {"data": {"values": [{"s": "3"}]}, "mark": {"type": "text", "align": "left", "baseline": "middle", "fontSize": 10, "color": "#4f81bd"}, "encoding": {"x": {"datum": 68.7, "type": "quantitative"}, "y": {"datum": 37, "type": "quantitative"}, "text": {"field": "s"}}},
 {"data": {"values": [{"s": "Ti"}]}, "mark": {"type": "text", "align": "center", "baseline": "middle", "fontSize": 35, "color": "#c00000"}, "encoding": {"x": {"datum": 40.9, "type": "quantitative"}, "y": {"datum": 178, "type": "quantitative"}, "text": {"field": "s"}}},
 {"data": {"values": [{"s": "o"}]}, "mark": {"type": "point", "shape": "circle", "size": 1850, "filled": false, "stroke": "#c00000", "strokeWidth": 3, "opacity": 1}, "encoding": {"x": {"datum": 41.1, "type": "quantitative"}, "y": {"datum": 132.5, "type": "quantitative"}}},
 {"data": {"values": [{"s": "β-UO"}]}, "mark": {"type": "text", "align": "right", "baseline": "middle", "fontSize": 38, "fontWeight": "bold", "color": "#0070c0"}, "encoding": {"x": {"datum": 44.0, "type": "quantitative"}, "y": {"datum": 439, "type": "quantitative"}, "text": {"field": "s"}}},
 {"data": {"values": [{"s": "3"}]}, "mark": {"type": "text", "align": "left", "baseline": "middle", "fontSize": 24, "fontWeight": "bold", "color": "#0070c0"}, "encoding": {"x": {"datum": 44.05, "type": "quantitative"}, "y": {"datum": 428, "type": "quantitative"}, "text": {"field": "s"}}},
 {"data": {"values": [{"s": "b."}]}, "mark": {"type": "text", "align": "left", "baseline": "middle", "fontSize": 38, "fontWeight": "bold", "color": "#000000"}, "encoding": {"x": {"datum": 2.24, "type": "quantitative"}, "y": {"datum": 391, "type": "quantitative"}, "text": {"field": "s"}}}
]
}
]
}
